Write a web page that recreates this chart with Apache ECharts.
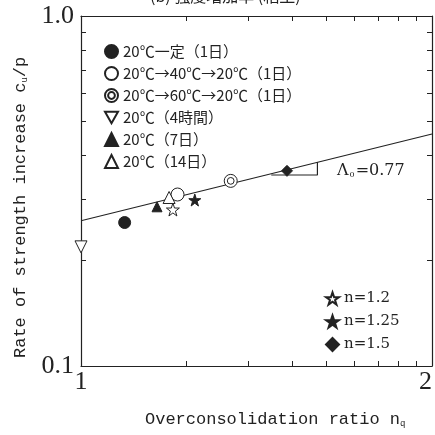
<!DOCTYPE html>
<html><head><meta charset="utf-8">
<script src="https://cdn.jsdelivr.net/npm/echarts@6/dist/echarts.min.js"></script>
<style>html,body{margin:0;padding:0;background:#fff}#c{width:435px;height:435px}</style>
</head><body><div id="c"></div>
<script>
const legendNames1 = ['20℃一定（1日）','20℃→40℃→20℃（1日）','20℃→60℃→20℃（1日）','20℃（4時間）','20℃（7日）','20℃（14日）'];
const legendNames2 = ['n=1.2','n=1.25','n=1.5'];
const ptConst1d   = [[1.09, 0.257]];
const ptCycle40   = [[1.21, 0.309]];
const ptCycle60   = [[1.344, 0.338]];
const pt4h        = [[1.0, 0.219]];
const pt7d        = [[1.162, 0.285]];
const pt14d       = [[1.19, 0.303]];
const ptN12       = [[1.199, 0.280]];
const ptN125      = [[1.252, 0.298]];
const ptN15       = [[1.502, 0.361]];
const fitLine     = [[1, 0.260], [2, 0.460]];
const slopeTri    = [[1.456, 0.3513], [1.595, 0.3513], [1.595, 0.3827]];
const xTickValues = [1.232, 1.392, 1.518, 1.623, 1.715, 1.797, 1.870, 1.938];
const yTickValues = [0.2, 0.3, 0.4, 0.5, 0.6, 0.7, 0.8, 0.9];
const xLabelValues = [1, 2];
const yLabelValues = [0.1, 1];

const INK = '#222';
const STAR = 'path://M50,0 L61.8,35.1 L98.1,35.1 L68.8,56.8 L79.4,90.5 L50,69.1 L20.6,90.5 L31.2,56.8 L1.9,35.1 L38.2,35.1 Z';
const DCIRC = 'path://M0,50 A50,50 0 1 0 100,50 A50,50 0 1 0 0,50 Z M24,50 A26,26 0 1 0 76,50 A26,26 0 1 0 24,50 Z';
const DTRI = 'path://M0,0 L100,0 L50,87 Z';

function sc(name, data, symbol, size, filled){
  return {type:'scatter', name, data, symbol, symbolSize:size, z:5,
    itemStyle:{color: filled? INK:'#fff', borderColor:INK, borderWidth:1, opacity:1}};
}
const tickStyle = {show:true, inside:true, length:5, lineStyle:{color:INK,width:1}};
const lineStyle = {color:INK, width:1.2};
const serifLbl = {fontFamily:'Liberation Serif', fontSize:26, color:INK};
const monoRich = {s:{fontFamily:'Liberation Mono', fontSize:9, fill:INK, verticalAlign:'bottom', padding:[8,0,0,0]}};

const chart = echarts.init(document.getElementById('c'), null, {renderer:'canvas'});
chart.setOption({
  animation:false,
  backgroundColor:'#fff',
  grid:{left:81, top:16, width:352, height:350, containLabel:false},
  xAxis:[
    {type:'log', logBase:2, min:1, max:2, position:'bottom',
     axisLine:{show:true, lineStyle}, splitLine:{show:false},
     axisTick:Object.assign({customValues:xTickValues}, tickStyle),
     axisLabel:Object.assign({customValues:xLabelValues, margin:3, alignMaxLabel:'right',
        formatter:v=>String(Math.round(v))}, serifLbl)},
    {type:'log', logBase:2, min:1, max:2, position:'top',
     axisLine:{show:true, lineStyle}, splitLine:{show:false},
     axisTick:Object.assign({customValues:xTickValues}, tickStyle),
     axisLabel:{show:false}}
  ],
  yAxis:[
    {type:'log', logBase:10, min:0.1, max:1, position:'left',
     axisLine:{show:true, lineStyle}, splitLine:{show:false},
     axisTick:Object.assign({customValues:yTickValues}, tickStyle),
     axisLabel:Object.assign({customValues:yLabelValues, margin:7,
        formatter:v=>(v>0.5?'1.0':'0.1')}, serifLbl)},
    {type:'log', logBase:10, min:0.1, max:1, position:'right',
     axisLine:{show:true, lineStyle}, splitLine:{show:false},
     axisTick:Object.assign({customValues:yTickValues}, tickStyle),
     axisLabel:{show:false}}
  ],
  legend:[
    {data:legendNames1, orient:'vertical', left:99, top:39, itemWidth:13, itemHeight:13, itemGap:7,
     selectedMode:false,
     textStyle:{fontFamily:'Noto Sans CJK JP', fontSize:15, color:INK}},
    {data:legendNames2, orient:'vertical', left:320, top:286, itemWidth:13, itemHeight:13, itemGap:8,
     selectedMode:false,
     textStyle:{fontFamily:'DejaVu Serif', fontSize:15, color:INK}}
  ],
  graphic:[
    {type:'text', left:337, top:163, style:{text:'Λ{s|0}=0.77', fill:INK, font:'16px DejaVu Serif',
      rich:{s:{fontSize:8, fontFamily:'DejaVu Serif', fill:INK, verticalAlign:'bottom', padding:[6,1,0,1]}}}},
    {type:'text', left:150, top:-12, style:{text:'(b) 強度増加率 (粘土)', fill:INK, font:'16px Noto Sans CJK JP'}},
    {type:'text', x:145, y:411, style:{text:'Overconsolidation ratio n{s|q}', fill:INK, font:'17px Liberation Mono', rich:monoRich}},
    {type:'text', x:12, y:358, rotation:Math.PI/2, style:{text:'Rate of strength increase c{s|u}/p', fill:INK, font:'17px Liberation Mono', rich:monoRich}}
  ],
  series:[
    {type:'line', name:'fit', data:fitLine, showSymbol:false, symbol:'none', lineStyle:{color:INK,width:1.2}, z:3, silent:true},
    {type:'line', name:'slope', data:slopeTri, showSymbol:false, symbol:'none', lineStyle:{color:INK,width:1.2}, z:3, silent:true},
    sc(legendNames1[0], ptConst1d, 'circle', 12, true),
    sc(legendNames1[1], ptCycle40, 'circle', 13, false),
    sc(legendNames1[2], ptCycle60, DCIRC, 13, false),
    sc(legendNames1[3], pt4h, DTRI, 12, false),
    sc(legendNames1[4], pt7d, 'triangle', 10, true),
    sc(legendNames1[5], pt14d, 'triangle', 12, false),
    sc(legendNames2[0], ptN12, STAR, 13, false),
    sc(legendNames2[1], ptN125, STAR, 12, true),
    sc(legendNames2[2], ptN15, 'diamond', 11, true)
  ]
});
</script></body></html>
